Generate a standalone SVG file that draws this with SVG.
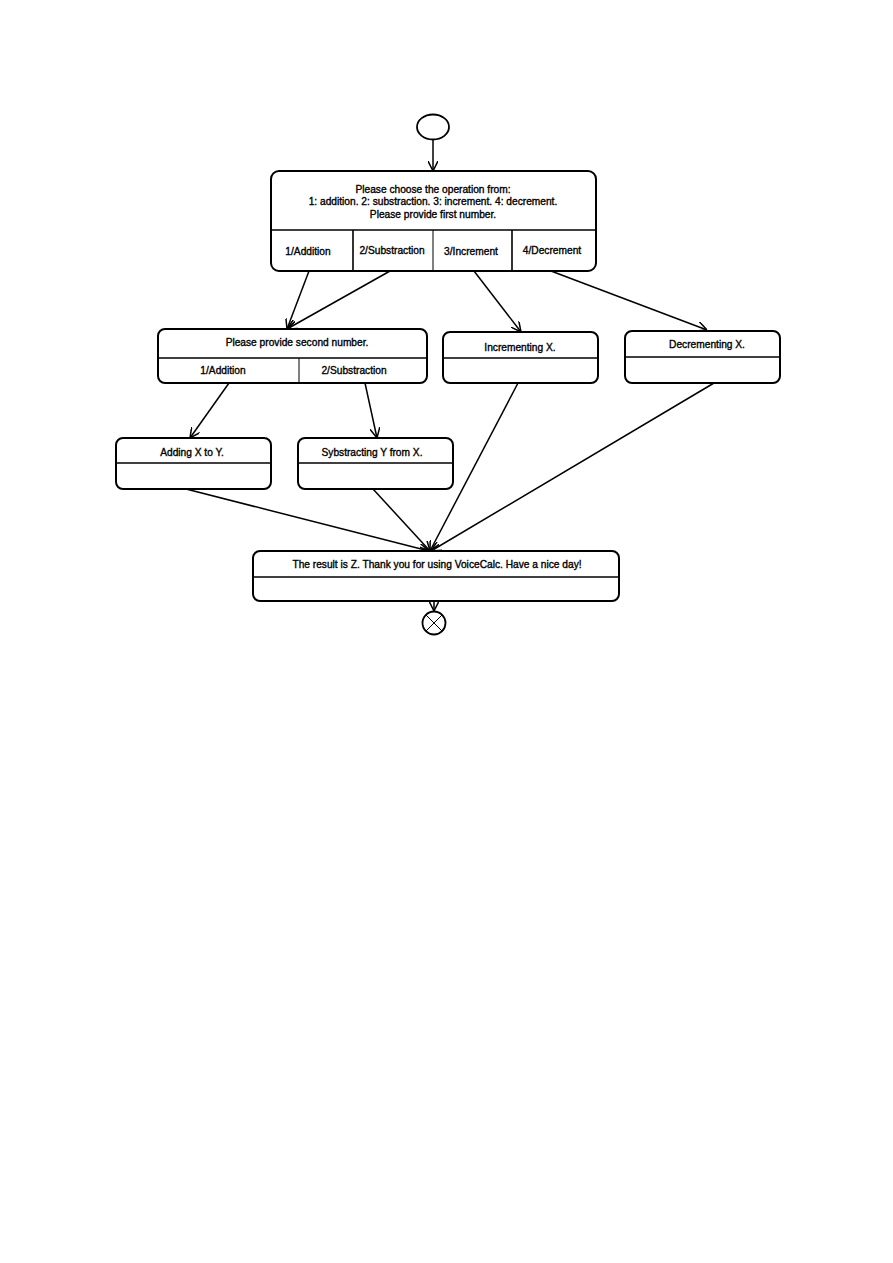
<svg xmlns="http://www.w3.org/2000/svg" width="893" height="1263" viewBox="0 0 893 1263">
<defs>
<style>
.box{fill:#fff;stroke:#000;stroke-width:2}
.div{stroke:#000;stroke-width:1.6;fill:none}
.thin{stroke:#000;stroke-width:1;fill:none}
.t{font-family:"Liberation Sans",Arial,sans-serif;font-size:10.2px;fill:#000;stroke:#000;stroke-width:0.35;text-anchor:middle}
.c{stroke:#000;stroke-width:1.5;fill:none;marker-end:url(#arr)}
</style>
<marker id="arr" viewBox="0 0 10 10" refX="10" refY="5" markerWidth="10" markerHeight="10" markerUnits="userSpaceOnUse" orient="auto">
<path d="M0,0 L10,5 L0,10" fill="none" stroke="#000" stroke-width="1.5"/>
</marker>
</defs>
<rect width="893" height="1263" fill="#fff"/>

<g id="connectors">
<line class="c" x1="433" y1="140" x2="433" y2="171"/>
<line class="c" x1="309" y1="271" x2="287" y2="329"/>
<line class="c" x1="390" y1="271" x2="287" y2="329"/>
<line class="c" x1="474" y1="271" x2="521" y2="332"/>
<line class="c" x1="551" y1="271" x2="707" y2="330"/>
<line class="c" x1="229" y1="383" x2="190" y2="438"/>
<line class="c" x1="365" y1="383" x2="377" y2="438"/>
<line class="c" x1="186" y1="489" x2="429" y2="551"/>
<line class="c" x1="373" y1="489" x2="430" y2="551"/>
<line class="c" x1="518" y1="383" x2="430" y2="551"/>
<line class="c" x1="714" y1="383" x2="431" y2="551"/>
<line class="c" x1="434" y1="601" x2="434" y2="611"/>
</g>

<g id="start">
<ellipse cx="433" cy="127" rx="16" ry="12.5" fill="#fff" stroke="#000" stroke-width="1.8"/>
</g>

<g id="choose">
<rect class="box" x="271" y="171" width="325" height="100" rx="8"/>
<line class="div" x1="271" y1="230" x2="596" y2="230"/>
<line class="div" x1="353" y1="230" x2="353" y2="271"/>
<line class="thin" x1="433" y1="230" x2="433" y2="271"/>
<line class="div" x1="512" y1="230" x2="512" y2="271"/>
<text class="t" x="433" y="193">Please choose the operation from:</text>
<text class="t" x="433" y="204.5">1: addition. 2: substraction. 3: increment. 4: decrement.</text>
<text class="t" x="433" y="218">Please provide first number.</text>
<text class="t" x="308" y="255">1/Addition</text>
<text class="t" x="392" y="254">2/Substraction</text>
<text class="t" x="471" y="255">3/Increment</text>
<text class="t" x="552" y="254">4/Decrement</text>
</g>

<g id="second">
<rect class="box" x="158" y="329" width="269" height="54" rx="7"/>
<line class="div" x1="158" y1="358" x2="427" y2="358"/>
<line class="thin" x1="299" y1="358" x2="299" y2="383"/>
<text class="t" x="297" y="346">Please provide second number.</text>
<text class="t" x="223" y="374">1/Addition</text>
<text class="t" x="354" y="374">2/Substraction</text>
</g>

<g id="incrementing">
<rect class="box" x="443" y="332" width="155" height="51" rx="7"/>
<line class="div" x1="443" y1="358" x2="598" y2="358"/>
<text class="t" x="520" y="351">Incrementing X.</text>
</g>

<g id="decrementing">
<rect class="box" x="625" y="331" width="155" height="52" rx="7"/>
<line class="div" x1="625" y1="357" x2="780" y2="357"/>
<text class="t" x="707" y="348">Decrementing X.</text>
</g>

<g id="adding">
<rect class="box" x="116" y="438" width="155" height="51" rx="7"/>
<line class="div" x1="116" y1="463" x2="271" y2="463"/>
<text class="t" x="192" y="456">Adding X to Y.</text>
</g>

<g id="subtracting">
<rect class="box" x="298" y="438" width="155" height="51" rx="7"/>
<line class="div" x1="298" y1="463" x2="453" y2="463"/>
<text class="t" x="372" y="456">Sybstracting Y from X.</text>
</g>

<g id="result">
<rect class="box" x="253" y="551" width="366" height="50" rx="7"/>
<line class="div" x1="253" y1="577" x2="619" y2="577"/>
<text class="t" x="437" y="568">The result is Z. Thank you for using VoiceCalc. Have a nice day!</text>
</g>

<g id="end">
<circle cx="434" cy="623" r="11.5" fill="#fff" stroke="#000" stroke-width="1.8"/>
<line class="thin" x1="426" y1="615" x2="442" y2="631" stroke-width="1.5"/>
<line class="thin" x1="442" y1="615" x2="426" y2="631" stroke-width="1.5"/>
</g>
</svg>
